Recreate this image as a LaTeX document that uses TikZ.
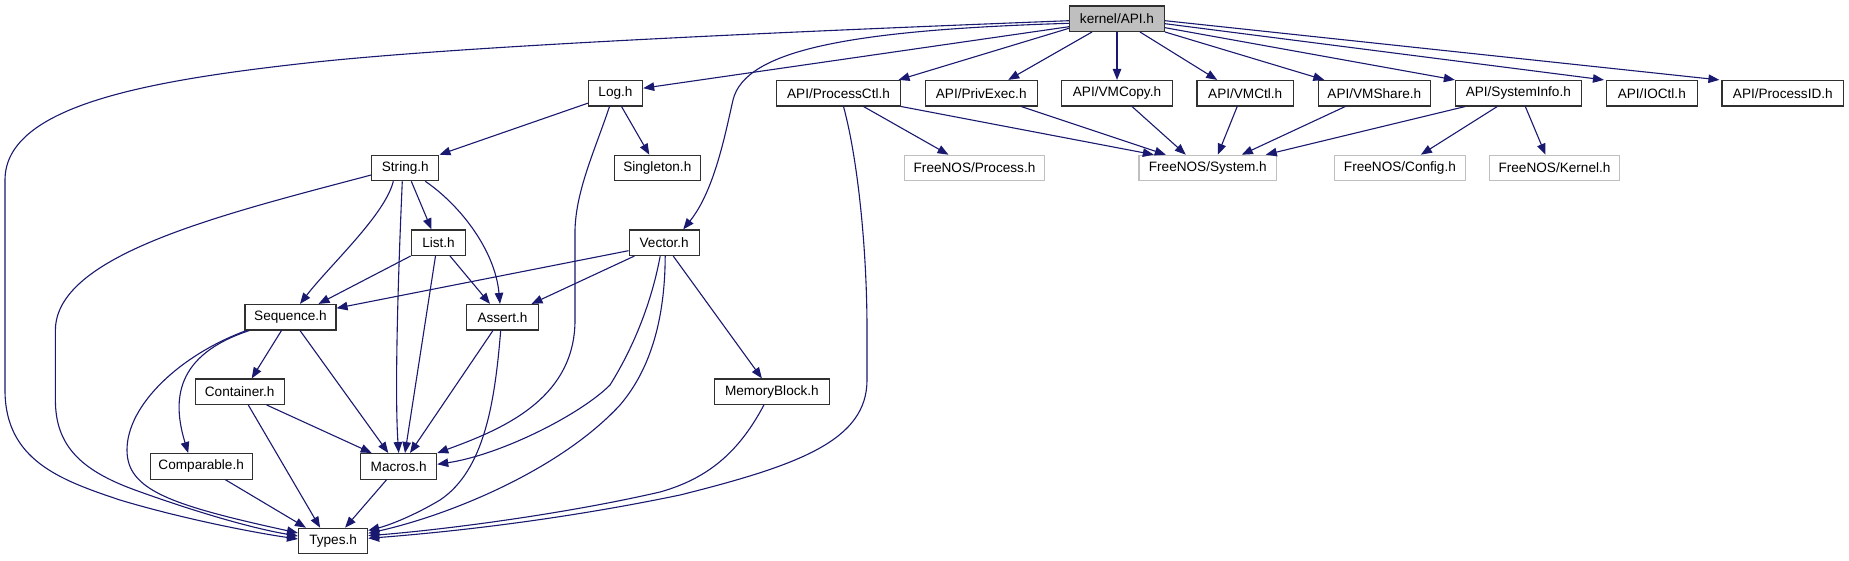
\documentclass[tikz,border=0pt]{standalone}
\usepackage{fontspec}
\setmainfont{Liberation Sans}
\usetikzlibrary{arrows.meta,calc}
\definecolor{edgecol}{HTML}{191970}
\definecolor{graybox}{HTML}{BFBFBF}
\definecolor{boxline}{HTML}{303030}
\begin{document}
\begin{tikzpicture}[x=1pt,y=-1pt,font=\fontsize{13.6}{16}\selectfont,
  file/.style={draw=boxline,line width=1.1pt,fill=white,inner sep=0pt,minimum height=25.5pt},
  ext/.style={file,draw=graybox},
  root/.style={file,fill=graybox},
  dep/.style={draw=edgecol,line width=1.1pt,-{Triangle[length=11pt,width=8.5pt]}}]
\path[use as bounding box,fill=white] (0,0) rectangle (1849,560);
% nodes
\node[root,minimum width=95pt] (api) at (1117,18.7) {kernel/API.h};
\node[file,minimum width=54.3pt] (log) at (615.5,93.2) {Log.h};
\node[file,minimum width=124pt] (pctl) at (838.5,93.2) {API/ProcessCtl.h};
\node[file,minimum width=112.3pt] (priv) at (981.2,93.2) {API/PrivExec.h};
\node[file,minimum width=111.2pt] (vmcopy) at (1117,93.2) {API/VMCopy.h};
\node[file,minimum width=96.5pt] (vmctl) at (1245.2,93.2) {API/VMCtl.h};
\node[file,minimum width=112.5pt] (vmshare) at (1374.3,93.2) {API/VMShare.h};
\node[file,minimum width=125.8pt] (sysinfo) at (1518.3,93.2) {API/SystemInfo.h};
\node[file,minimum width=90.6pt] (ioctl) at (1651.8,93.2) {API/IOCtl.h};
\node[file,minimum width=121.7pt] (pid) at (1782.8,93.2) {API/ProcessID.h};
\node[file,minimum width=67.2pt] (string) at (405.3,168) {String.h};
\node[file,minimum width=86.2pt] (singleton) at (657.3,168) {Singleton.h};
\node[ext,minimum width=140pt] (process) at (974.5,168) {FreeNOS/Process.h};
\node[ext,minimum width=137.7pt] (system) at (1207.8,168) {FreeNOS/System.h};
\node[ext,minimum width=130.8pt] (config) at (1399.9,168) {FreeNOS/Config.h};
\node[ext,minimum width=129.6pt] (kernel) at (1554.5,168) {FreeNOS/Kernel.h};
\node[file,minimum width=54.6pt] (list) at (438.5,242.7) {List.h};
\node[file,minimum width=70.3pt] (vector) at (664.2,242.7) {Vector.h};
\node[file,minimum width=91pt] (sequence) at (290.5,317.2) {Sequence.h};
\node[file,minimum width=71.6pt] (assert) at (502.5,317.2) {Assert.h};
\node[file,minimum width=89.3pt] (container) at (239.7,391.7) {Container.h};
\node[file,minimum width=114.3pt] (memblock) at (771.9,391.7) {MemoryBlock.h};
\node[file,minimum width=102.3pt] (comparable) at (201.2,466.3) {Comparable.h};
\node[file,minimum width=76pt] (macros) at (398.7,466.3) {Macros.h};
\node[file,minimum width=69.2pt] (types) at (333.1,541) {Types.h};
% edges from kernel/API.h
\draw[dep] ($(api.west)+(0,2)$) .. controls (700,35) and (450,48) .. (316,62) .. controls (150,80) and (5,105) .. (5,180) -- (5,390) .. controls (5,460) and (60,480) .. (120,500) .. controls (180,518) and (250,532) .. ($(types.west)+(0,-2)$);
\draw[dep] ($(api.west)+(0,4.6)$) .. controls (850,30) and (745,50) .. (733,100) .. controls (726,130) and (715,190) .. ($(vector.north)+(19,0)$);
\draw[dep] ($(api.west)+(0,8)$) -- ($(log.east)+(0,-5)$);
\draw[dep] ($(api.west)+(0,9.6)$) -- ($(pctl.north)+(60,0)$);
\draw[dep] ($(api.south)+(-25,0)$) -- ($(priv.north)+(27,0)$);
\draw[dep] (api.south) -- (vmcopy.north);
\draw[dep] ($(api.south)+(23,0)$) -- ($(vmctl.north)+(-28,0)$);
\draw[dep] (api.south east) -- ($(vmshare.north)+(-50,0)$);
\draw[dep] ($(api.east)+(0,9)$) -- (sysinfo.north west);
\draw[dep] ($(api.east)+(0,5)$) -- ($(ioctl.north west)+(-2,0)$);
\draw[dep] ($(api.east)+(0,2)$) -- ($(pid.north west)+(-2,0)$);
% Log.h
\draw[dep] ($(log.west)+(0,10)$) -- (string.north east);
\draw[dep] ($(log.south)+(6,0)$) -- ($(singleton.north)+(-8,0)$);
\draw[dep] ($(log.south)+(-6,0)$) .. controls (595,150) and (576,190) .. (575,230) -- (575,320) .. controls (575,400) and (500,430) .. (macros.north east);
% API/ProcessCtl.h
\draw[dep] ($(pctl.south)+(25,0)$) -- ($(process.north)+(-26,0)$);
\draw[dep] (pctl.south east) -- ($(system.north)+(-54,0)$);
\draw[dep] ($(pctl.south)+(5,0)$) .. controls (858,160) and (867,250) .. (867,330) -- (867,380) .. controls (867,440) and (800,465) .. (680,495) .. controls (560,520) and (450,532) .. ($(types.east)+(0,-2.7)$);
% others to System.h etc.
\draw[dep] ($(priv.south)+(40,0)$) -- ($(system.north)+(-42,0)$);
\draw[dep] ($(vmcopy.south)+(15,0)$) -- ($(system.north)+(-22,0)$);
\draw[dep] ($(vmctl.south)+(-8,0)$) -- ($(system.north)+(10,0)$);
\draw[dep] ($(vmshare.south)+(-29,0)$) -- ($(system.north)+(34,0)$);
\draw[dep] ($(sysinfo.south)+(-53,0)$) -- ($(system.north)+(58,0)$);
\draw[dep] ($(sysinfo.south)+(-21,0)$) -- ($(config.north)+(21,0)$);
\draw[dep] ($(sysinfo.south)+(7,0)$) -- ($(kernel.north)+(-9,0)$);
% String.h
\draw[dep] ($(string.south)+(-12,0)$) .. controls (385,215) and (330,265) .. ($(sequence.north)+(9.5,0)$);
\draw[dep] ($(string.south)+(6,0)$) -- ($(list.north)+(-7,0)$);
\draw[dep] ($(string.south)+(-3,0)$) .. controls (397,300) and (395,400) .. (macros.north);
\draw[dep] ($(string.south)+(20,0)$) .. controls (460,205) and (495,250) .. ($(assert.north)+(-2.5,0)$);
\draw[dep] ($(string.west)+(0,7)$) .. controls (220,215) and (56,255) .. (55.4,330) -- (55.4,400) .. controls (55.4,445) and (80,470) .. (135,490) .. controls (190,510) and (250,528) .. ($(types.west)+(0,-5)$);
% List.h
\draw[dep] (list.south west) -- ($(sequence.north)+(28,0)$);
\draw[dep] ($(list.south)+(-3,0)$) -- ($(macros.north)+(6.3,0)$);
\draw[dep] ($(list.south)+(11.5,0)$) -- ($(assert.north)+(-12.5,0)$);
% Vector.h
\draw[dep] ($(vector.west)+(0,8)$) -- ($(sequence.east)+(0,-9)$);
\draw[dep] ($(vector.south west)+(6,0)$) -- ($(assert.north)+(29,0)$);
\draw[dep] ($(vector.south)+(-4,0)$) .. controls (652,300) and (635,345) .. (610,385) .. controls (580,415) and (500,455) .. ($(macros.east)+(0,-2)$);
\draw[dep] ($(vector.south)+(1,0)$) .. controls (665,320) and (650,370) .. (620,405) .. controls (560,470) and (450,515) .. ($(types.east)+(0,-7.7)$);
\draw[dep] ($(vector.south)+(9,0)$) -- ($(memblock.north)+(-10,0)$);
% Sequence.h
\draw[dep] ($(sequence.south)+(-9,0)$) -- ($(container.north)+(12,0)$);
\draw[dep] ($(sequence.south)+(9.5,0)$) -- ($(macros.north)+(-10.4,0)$);
\draw[dep] ($(sequence.south west)+(5,0)$) .. controls (175,355) and (172,400) .. ($(comparable.north)+(-13,0)$);
\draw[dep] ($(sequence.south west)+(2,0)$) .. controls (180,355) and (127,405) .. (127,450) .. controls (127,490) and (170,505) .. ($(types.west)+(0,-8)$);
% Assert.h
\draw[dep] ($(assert.south)+(-9.5,0)$) -- ($(macros.north)+(11.3,0)$);
\draw[dep] ($(assert.south)+(-1.8,0)$) .. controls (495,400) and (485,470) .. (440,500) .. controls (415,515) and (390,525) .. ($(types.east)+(0,-10.5)$);
% Container.h, Comparable.h, Macros.h, MemoryBlock.h
\draw[dep] ($(container.south)+(27,0)$) -- ($(macros.north)+(-27,0)$);
\draw[dep] ($(container.south)+(8.6,0)$) -- ($(types.north)+(-13,0)$);
\draw[dep] ($(comparable.south)+(24,0)$) -- ($(types.north west)+(8,0)$);
\draw[dep] ($(macros.south)+(-12,0)$) -- ($(types.north)+(12,0)$);
\draw[dep] ($(memblock.south)+(-8,0)$) .. controls (740,450) and (710,478) .. (660,492) .. controls (560,515) and (440,530) .. ($(types.east)+(0,-5.3)$);
\end{tikzpicture}
\end{document}
